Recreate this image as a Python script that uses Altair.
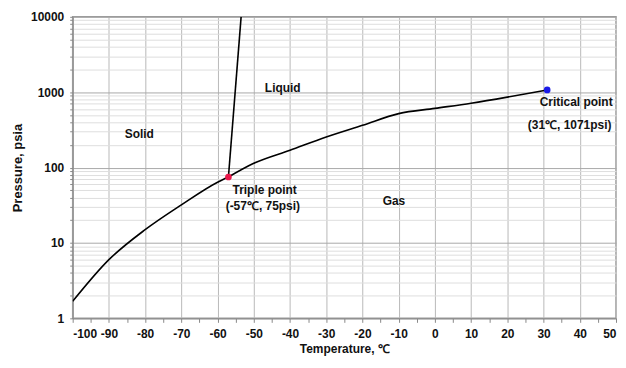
import altair as alt
import pandas as pd

# Sublimation curve (solid-gas)
sub_T = [-100, -90, -80, -70, -60, -57]
sub_P = [1.68, 6.0, 15, 32, 64, 75]
# Vaporization curve (liquid-gas)
vap_T = [-57, -50, -40, -30, -20, -10, 0, 10, 20, 31]
vap_P = [75, 114, 170, 255, 364, 520, 610, 715, 860, 1071]
# Melting curve (solid-liquid)
melt_T = [-57, -53.5]
melt_P = [75, 10000]

pt_T = [-57, 31]
pt_P = [75, 1071]
pt_name = ["Triple", "Critical"]
pt_color = ["#e8174a", "#1a1ae6"]

lab_T = [-81.6, -42, -11.3, -47, -47.5, 39, 37.2]
lab_P = [277, 1120, 36, 50, 31, 740, 366]
lab_text = ["Solid", "Liquid", "Gas", "Triple point", "(-57\u2103, 75psi)",
            "Critical point", "(31\u2103, 1071psi)"]

x_ticks = list(range(-100, 51, 5))
y_ticks = [m * 10 ** e for e in range(0, 4) for m in range(1, 10)] + [10000]

lines = pd.concat([
    pd.DataFrame({"T": sub_T, "P": sub_P, "curve": "sub", "o": range(len(sub_T))}),
    pd.DataFrame({"T": vap_T, "P": vap_P, "curve": "vap", "o": range(len(vap_T))}),
    pd.DataFrame({"T": melt_T, "P": melt_P, "curve": "melt", "o": range(len(melt_T))}),
])
pts = pd.DataFrame({"T": pt_T, "P": pt_P, "name": pt_name, "color": pt_color})
labs = pd.DataFrame({"T": lab_T, "P": lab_P, "text": lab_text})

FONT = "Liberation Sans"

x_scale = alt.Scale(domain=[-100, 50], nice=False, zero=False)
y_scale = alt.Scale(type="log", domain=[1, 10000], nice=False)

x_axis = alt.Axis(
    values=x_ticks,
    title="Temperature, \u2103",
    labelExpr="datum.value % 10 == 0 ? '' + datum.value : ''",
    labelOverlap=False,
    gridColor={"condition": {"test": "datum.value % 10 == 0", "value": "#b8b8b8"}, "value": "rgba(0,0,0,0)"},
    tickSize=4,
    labelFontSize=12, labelFontWeight="bold", labelColor="#111",
    titleFontSize=12, titleFontWeight="bold", titleColor="#111",
    labelPadding=6, titlePadding=4,
    labelFont=FONT, titleFont=FONT,
)
y_axis = alt.Axis(
    values=y_ticks,
    title="Pressure, psia",
    labelExpr="indexof([1,10,100,1000,10000], datum.value) >= 0 ? '' + datum.value : ''",
    labelOverlap=False,
    gridColor={"condition": {"test": "indexof([1,10,100,1000,10000], datum.value) >= 0", "value": "#a8a8a8"}, "value": "#dedede"},
    tickSize=3,
    labelFontSize=12, labelFontWeight="bold", labelColor="#111",
    titleFontSize=13, titleFontWeight="bold", titleColor="#111",
    labelPadding=6, titlePadding=6,
    labelFont=FONT, titleFont=FONT,
)

X = alt.X("T:Q", scale=x_scale, axis=x_axis)
Y = alt.Y("P:Q", scale=y_scale, axis=y_axis)

base = alt.Chart(lines).mark_line(color="black", strokeWidth=1.6, clip=True, interpolate="monotone").encode(
    x=X, y=Y,
    detail="curve:N",
    order="o:Q",
)

points = alt.Chart(pts).mark_point(filled=True, size=45, opacity=1).encode(
    x=X, y=Y,
    color=alt.Color("color:N", scale=None),
)

texts = alt.Chart(labs).mark_text(font=FONT, fontSize=12, fontWeight="bold", color="#111").encode(
    x=X, y=Y,
    text="text:N",
)

chart = alt.layer(base, points, texts).properties(
    width=546, height=303,
    autosize=alt.AutoSizeParams(type="none"),
    padding={"left": 65, "top": 8, "right": 2, "bottom": 40},
).configure_view(stroke="#9a9a9a", strokeWidth=1.5).configure_axis(
    domainColor="#888", tickColor="#888", labelOverlap=False
)

chart.save("out.html", embed_options={"renderer": "svg", "actions": False})
